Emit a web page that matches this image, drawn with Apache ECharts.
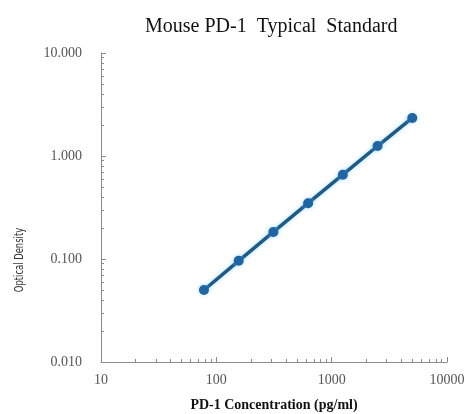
<!DOCTYPE html>
<html>
<head>
<meta charset="utf-8">
<script src="https://cdn.jsdelivr.net/npm/echarts@6/dist/echarts.min.js"></script>
<style>
  html, body { margin: 0; padding: 0; background: #fff; }
  #main { width: 466px; height: 414px; }
</style>
</head>
<body>
<div id="main"></div>
<script>
// standard curve: concentration (pg/ml) vs optical density
var concentrations = [78.125, 156.25, 312.5, 625, 1250, 2500, 5000];
var odValues = [0.050, 0.096, 0.183, 0.348, 0.658, 1.25, 2.34];

// minor tick positions on the log axes (2..9 in each decade)
var minorMultipliers = [2, 3, 4, 5, 6, 7, 8, 9];
var xDecades = [10, 100, 1000];
var yDecades = [0.01, 0.1, 1];

function minorTicks(decades) {
    var out = [];
    decades.forEach(function (d) {
        minorMultipliers.forEach(function (m) { out.push(d * m); });
    });
    return out;
}

var points = concentrations.map(function (c, i) { return [c, odValues[i]]; });

var serif = '"Liberation Serif", "DejaVu Serif", serif';
var axisGray = '#8a8a8a';

var chart = echarts.init(document.getElementById('main'));
var option = {
    animation: false,
    title: {
        text: 'Mouse PD-1  Typical  Standard',
        left: 140,
        top: 12,
        textStyle: { fontFamily: serif, fontSize: 20, fontWeight: 'normal', color: '#111' }
    },
    grid: { left: 101, right: 19, top: 53, bottom: 52, outerBoundsMode: 'none', containLabel: false },
    xAxis: [
        {
            type: 'log',
            logBase: 10,
            min: 10,
            max: 10000,
            name: 'PD-1 Concentration (pg/ml)',
            nameLocation: 'middle',
            nameGap: 36,
            nameTextStyle: { fontFamily: serif, fontSize: 14, fontWeight: 'bold', color: '#111' },
            axisLine: { lineStyle: { color: axisGray, width: 1 } },
            axisTick: { inside: true, length: 5, lineStyle: { color: axisGray } },
            axisLabel: {
                fontFamily: serif, fontSize: 14, color: '#555', margin: 11,
                formatter: function (v) { return String(Math.round(v)); }
            },
            splitLine: { show: false }
        },
        {
            type: 'log',
            logBase: 10,
            min: 10,
            max: 10000,
            position: 'bottom',
            axisLine: { show: false },
            axisTick: { inside: true, length: 3, lineStyle: { color: axisGray }, customValues: minorTicks(xDecades) },
            axisLabel: { show: false },
            splitLine: { show: false }
        }
    ],
    yAxis: [
        {
            type: 'log',
            logBase: 10,
            min: 0.01,
            max: 10,
            axisLine: { show: true, lineStyle: { color: axisGray, width: 1 } },
            axisTick: { show: true, inside: true, length: 5, lineStyle: { color: axisGray } },
            axisLabel: {
                fontFamily: serif, fontSize: 14, color: '#555', margin: 19,
                formatter: function (v) { return Number(v).toFixed(3); }
            },
            splitLine: { show: false }
        },
        {
            type: 'log',
            logBase: 10,
            min: 0.01,
            max: 10,
            position: 'left',
            axisLine: { show: false },
            axisTick: { show: true, inside: true, length: 3, lineStyle: { color: axisGray }, customValues: minorTicks(yDecades) },
            axisLabel: { show: false },
            splitLine: { show: false }
        }
    ],
    graphic: [
        {
            type: 'text',
            x: 20,
            y: 260,
            rotation: Math.PI / 2,
            scaleX: 0.72,
            style: {
                text: 'Optical Density',
                font: '13px "DejaVu Sans Condensed", "Liberation Sans Narrow", sans-serif',
                fill: '#333',
                align: 'center',
                verticalAlign: 'middle'
            }
        }
    ],
    series: [
        {
            type: 'line',
            data: points,
            symbol: 'circle',
            symbolSize: 10,
            itemStyle: { color: '#1f64a3', shadowColor: 'rgba(120,200,255,0.6)', shadowBlur: 4 },
            lineStyle: { color: '#1d5b88', width: 3.5, shadowColor: 'rgba(120,200,255,0.6)', shadowBlur: 4 }
        }
    ]
};
chart.setOption(option);
</script>
</body>
</html>
